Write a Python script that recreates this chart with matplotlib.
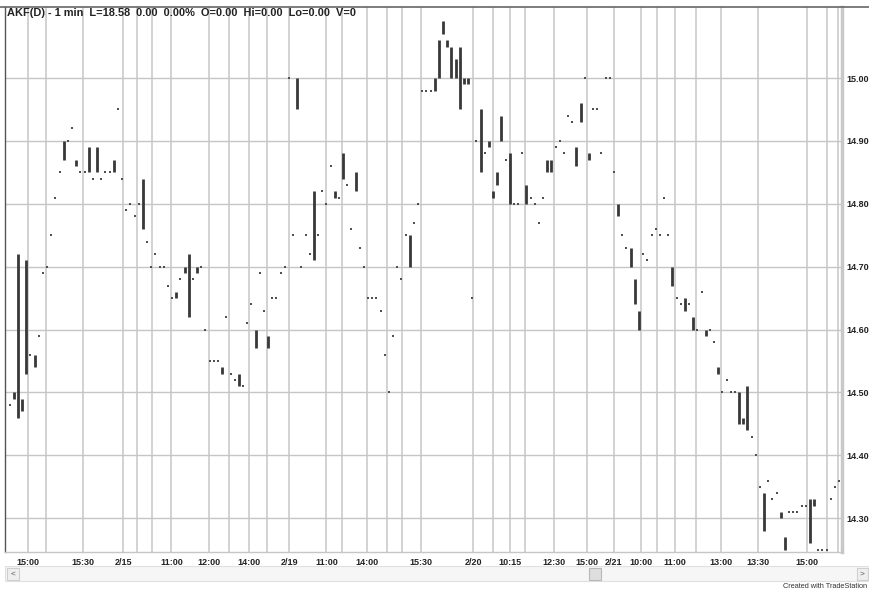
import matplotlib
matplotlib.use("Agg")
import matplotlib.pyplot as plt
from matplotlib.patches import Rectangle
from matplotlib.lines import Line2D
import numpy as np

# ---- data: 1-min bars (bar number order), low / high prices ----
bar_low = [
    14.52, 14.48, 14.49, 14.46, 14.47, 14.53, 14.56, 14.54, 14.59, 14.69,
    14.70, 14.75, 14.81, 14.85, 14.87, 14.90, 14.92, 14.86, 14.85, 14.85,
    14.85, 14.84, 14.85, 14.84, 14.85, 14.85, 14.85, 14.95, 14.84, 14.79,
    14.80, 14.78, 14.80, 14.76, 14.74, 14.70, 14.72, 14.70, 14.70, 14.67,
    14.65, 14.65, 14.68, 14.69, 14.62, 14.68, 14.69, 14.70, 14.60, 14.55,
    14.55, 14.55, 14.53, 14.62, 14.53, 14.52, 14.51, 14.51, 14.61, 14.64,
    14.57, 14.69, 14.63, 14.57, 14.65, 14.65, 14.69, 14.70, 15.00, 14.75,
    14.95, 14.70, 14.75, 14.72, 14.71, 14.75, 14.82, 14.80, 14.86, 14.81,
    14.81, 14.84, 14.83, 14.76, 14.82, 14.73, 14.70, 14.65, 14.65, 14.65,
    14.63, 14.56, 14.50, 14.59, 14.70, 14.68, 14.75, 14.70, 14.77, 14.80,
    14.98, 14.98, 14.98, 14.98, 15.00, 15.07, 15.05, 15.00, 15.00, 14.95,
    14.99, 14.99, 14.65, 14.90, 14.85, 14.88, 14.89, 14.81, 14.83, 14.90,
    14.87, 14.80, 14.80, 14.80, 14.88, 14.80, 14.81, 14.80, 14.77, 14.81,
    14.85, 14.85, 14.89, 14.90, 14.88, 14.94, 14.93, 14.86, 14.93, 15.00,
    14.87, 14.95, 14.95, 14.88, 15.00, 15.00, 14.85, 14.78, 14.75, 14.73,
    14.70, 14.64, 14.60, 14.72, 14.71, 14.75, 14.76, 14.75, 14.81, 14.75,
    14.67, 14.65, 14.64, 14.63, 14.64, 14.60, 14.60, 14.66, 14.59, 14.60,
    14.58, 14.53, 14.50, 14.52, 14.50, 14.50, 14.45, 14.45, 14.44, 14.43,
    14.40, 14.35, 14.28, 14.36, 14.33, 14.34, 14.30, 14.25, 14.31, 14.31,
    14.31, 14.32, 14.32, 14.26, 14.32, 14.25, 14.25, 14.25, 14.33, 14.35,
    14.36,
]
bar_high = [
    14.52, 14.48, 14.50, 14.72, 14.49, 14.71, 14.56, 14.56, 14.59, 14.69,
    14.70, 14.75, 14.81, 14.85, 14.90, 14.90, 14.92, 14.87, 14.85, 14.85,
    14.89, 14.84, 14.89, 14.84, 14.85, 14.85, 14.87, 14.95, 14.84, 14.79,
    14.80, 14.78, 14.80, 14.84, 14.74, 14.70, 14.72, 14.70, 14.70, 14.67,
    14.65, 14.66, 14.68, 14.70, 14.72, 14.68, 14.70, 14.70, 14.60, 14.55,
    14.55, 14.55, 14.54, 14.62, 14.53, 14.52, 14.53, 14.51, 14.61, 14.64,
    14.60, 14.69, 14.63, 14.59, 14.65, 14.65, 14.69, 14.70, 15.00, 14.75,
    15.00, 14.70, 14.75, 14.72, 14.82, 14.75, 14.82, 14.80, 14.86, 14.82,
    14.81, 14.88, 14.83, 14.76, 14.85, 14.73, 14.70, 14.65, 14.65, 14.65,
    14.63, 14.56, 14.50, 14.59, 14.70, 14.68, 14.75, 14.75, 14.77, 14.80,
    14.98, 14.98, 14.98, 15.00, 15.06, 15.09, 15.06, 15.05, 15.03, 15.05,
    15.00, 15.00, 14.65, 14.90, 14.95, 14.88, 14.90, 14.82, 14.85, 14.94,
    14.87, 14.88, 14.80, 14.80, 14.88, 14.83, 14.81, 14.80, 14.77, 14.81,
    14.87, 14.87, 14.89, 14.90, 14.88, 14.94, 14.93, 14.89, 14.96, 15.00,
    14.88, 14.95, 14.95, 14.88, 15.00, 15.00, 14.85, 14.80, 14.75, 14.73,
    14.73, 14.68, 14.63, 14.72, 14.71, 14.75, 14.76, 14.75, 14.81, 14.75,
    14.70, 14.65, 14.64, 14.65, 14.64, 14.62, 14.60, 14.66, 14.60, 14.60,
    14.58, 14.54, 14.50, 14.52, 14.50, 14.50, 14.50, 14.46, 14.51, 14.43,
    14.40, 14.35, 14.34, 14.36, 14.33, 14.34, 14.31, 14.27, 14.31, 14.31,
    14.31, 14.32, 14.32, 14.33, 14.33, 14.25, 14.25, 14.25, 14.33, 14.35,
    14.36,
]

# time-axis labels (bar number where each label sits)
tick_pos = [5.3, 18.7, 28.3, 39.8, 48.9, 58.5, 68.1, 77.0, 86.8, 99.8,
            112.2, 121.1, 131.7, 139.6, 146.0, 152.5, 160.7, 171.6, 180.6, 192.3]
tick_labels = ["15:00", "15:30", "2/15", "11:00", "12:00", "14:00", "2/19",
               "11:00", "14:00", "15:30", "2/20", "10:15", "12:30", "15:00",
               "2/21", "10:00", "11:00", "13:00", "13:30", "15:00"]
# additional (unlabelled) time grid lines
extra_grid = [9.8, 31.65, 35.25, 53.7, 62.8, 80.8, 91.6, 95.2, 117.0, 124.7,
              156.4, 165.7, 197.1, 199.8]
price_ticks = [14.30, 14.40, 14.50, 14.60, 14.70, 14.80, 14.90, 15.00]

title = "AKF(D) - 1 min  L=18.58  0.00  0.00%  O=0.00  Hi=0.00  Lo=0.00  V=0"

W, H = 869, 590
FONT = "Liberation Sans"
fig = plt.figure(figsize=(W / 100, H / 100), dpi=100)
fig.patch.set_facecolor("white")
ax = fig.add_axes([5 / W, (H - 552) / H, 837 / W, 545 / H])
ax.set_facecolor("white")

grid_col = "#c6c6c6"
for x in list(tick_pos) + list(extra_grid):
    ax.axvline(x, color=grid_col, lw=1.1, zorder=1)
for y in price_ticks:
    ax.axhline(y, color=grid_col, lw=1.0, zorder=1)

idx = np.arange(len(bar_low))
lo = np.array(bar_low)
hi = np.array(bar_high)
rng = hi > lo
ax.vlines(idx[rng], lo[rng], hi[rng], color="#383838", lw=2.0, zorder=3)
ax.plot(idx[~rng], lo[~rng], ls="none", marker="s", ms=1.7, mew=0,
        color="#505050", zorder=3)

ax.set_xlim(-0.1, 200.7)
ax.set_ylim(14.2464, 15.1129)

ax.set_xticks(tick_pos)
ax.set_xticklabels(tick_labels)
ax.yaxis.tick_right()
ax.set_yticks(price_ticks)
ax.set_yticklabels([f"{v:.2f}" for v in price_ticks])
ax.tick_params(axis="x", length=0, pad=4, labelsize=6.5, colors="#222222")
ax.tick_params(axis="y", length=0, pad=3, labelsize=6.5, colors="#222222")
for lab in ax.get_xticklabels() + ax.get_yticklabels():
    lab.set_fontweight("bold")
    lab.set_family(FONT)

ax.spines["top"].set_visible(False)
ax.spines["left"].set_color("#555555")
ax.spines["left"].set_linewidth(1.0)
ax.spines["bottom"].set_color("#c6c6c6")
ax.spines["bottom"].set_linewidth(1.0)
ax.spines["right"].set_color("#c8c8c8")
ax.spines["right"].set_linewidth(2.5)

# top border line across the whole window
fig.add_artist(Line2D([0, 1], [1 - 7 / H, 1 - 7 / H], color="#666666", lw=1.2,
                      transform=fig.transFigure))

fig.text(7 / W, 1 - 13.5 / H, title, ha="left", va="center", fontsize=7.9,
         fontweight="bold", family=FONT, color="#222222")

# scroll bar
def frect(x0, y0, x1, y1, fc, ec, lw=0.8):
    fig.add_artist(Rectangle((x0 / W, 1 - y1 / H), (x1 - x0) / W, (y1 - y0) / H,
                             transform=fig.transFigure, facecolor=fc,
                             edgecolor=ec, lw=lw))

frect(5, 566, 869, 581, "#f6f6f6", "#e0e0e0")
frect(7, 568, 19, 580, "#efefef", "#cfcfcf")
frect(589, 568, 601, 580, "#dedede", "#b8b8b8")
frect(857, 568, 868, 580, "#efefef", "#cfcfcf")
fig.text(13 / W, 1 - 574 / H, "<", ha="center", va="center", fontsize=6,
         family=FONT, color="#555555")
fig.text(862.5 / W, 1 - 574 / H, ">", ha="center", va="center", fontsize=6,
         family=FONT, color="#555555")
fig.text(867 / W, 1 - 586 / H, "Created with TradeStation", ha="right",
         va="center", fontsize=5.3, family=FONT, color="#333333")

fig.savefig("out.png", dpi=100)
